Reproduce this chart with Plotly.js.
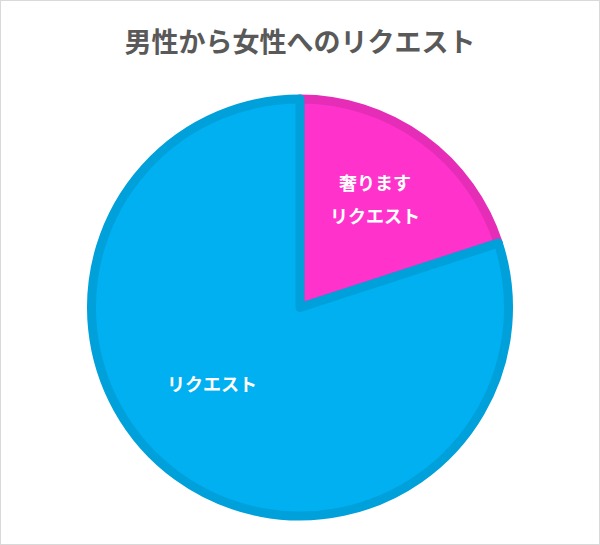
<!DOCTYPE html>
<html>
<head>
<meta charset="utf-8">
<script src="https://cdn.plot.ly/plotly-3.0.1.min.js"></script>
<style>
  html, body { margin: 0; padding: 0; background: #fff; }
  #chart { width: 598px; height: 543px; border: 1px solid #d9d9d9; }
</style>
</head>
<body>
<div id="chart"></div>
<script>
const FONT = '"Noto Sans CJK JP", "Noto Sans", sans-serif';

// slices, clockwise from 12 o'clock
const labels = ['奢ります<br>リクエスト', 'リクエスト'];
const values = [20, 80];
const fillColors = ['#ff33cc', '#00b0f0'];
const edgeColors = ['#e52db7', '#00a0da'];

// where each slice label sits (paper coords), like the Excel layout
const labelSpots = [[0.625, 0.762], [0.353, 0.319]];
const LINE_GAP = 33;

const trace = {
  type: 'pie',
  labels: labels,
  values: values,
  sort: false,
  direction: 'clockwise',
  rotation: 0,
  textinfo: 'none',
  hoverinfo: 'label+value',
  marker: {
    colors: fillColors,
    line: { color: edgeColors, width: 9 }
  },
  showlegend: false
};

// one annotation per text line so the line gap can match
const annotations = [];
labels.forEach(function (lab, i) {
  const lines = lab.split('<br>');
  lines.forEach(function (line, j) {
    annotations.push({
      xref: 'paper', yref: 'paper',
      x: labelSpots[i][0], y: labelSpots[i][1],
      xanchor: 'center', yanchor: 'middle',
      yshift: ((lines.length - 1) / 2 - j) * LINE_GAP,
      text: line,
      showarrow: false,
      font: { family: FONT, size: 18, color: '#ffffff', weight: 'bold' }
    });
  });
});

const layout = {
  width: 598,
  height: 543,
  margin: { l: 0, r: 0, t: 98, b: 28 },
  paper_bgcolor: '#ffffff',
  title: {
    text: '男性から女性へのリクエスト',
    font: { family: FONT, size: 27, color: '#595959', weight: 'bold' },
    x: 0.5,
    xanchor: 'center',
    yref: 'container',
    y: 0.923,
    yanchor: 'middle'
  },
  annotations: annotations
};

Plotly.newPlot('chart', [trace], layout, { displayModeBar: false, staticPlot: true });
</script>
</body>
</html>
